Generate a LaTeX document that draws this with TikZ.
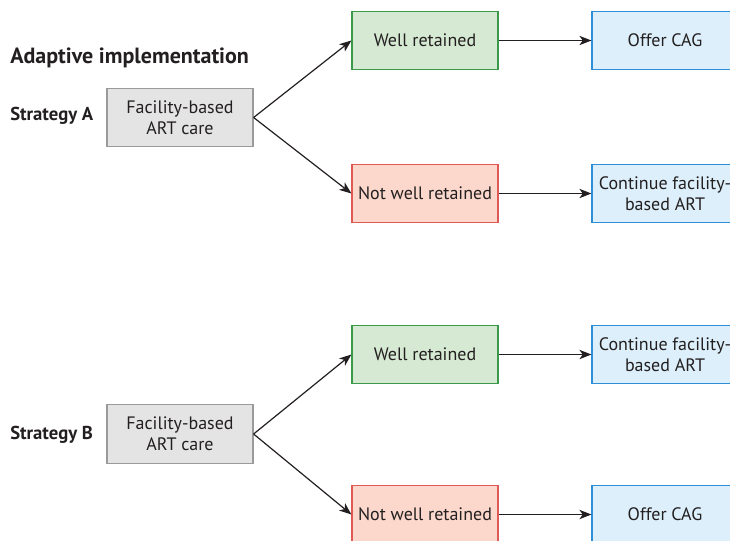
\documentclass[tikz,border=0pt]{standalone}
\usepackage{fontspec}
\setmainfont{PT Sans}
\usetikzlibrary{arrows.meta}

\definecolor{grayfill}{HTML}{E4E4E4}
\definecolor{grayline}{HTML}{9A9A9A}
\definecolor{greenfill}{HTML}{D6E9D2}
\definecolor{greenline}{HTML}{3A9A4A}
\definecolor{redfill}{HTML}{FBD8CB}
\definecolor{redline}{HTML}{E05A55}
\definecolor{bluefill}{HTML}{DCEFFA}
\definecolor{blueline}{HTML}{2F8FD6}
\definecolor{inktext}{HTML}{231F20}

\tikzset{
  box/.style={draw, line width=0.9pt, minimum width=109.5pt, minimum height=44pt,
    align=center, inner sep=1pt, text=inktext, font=\fontsize{13.5}{15.5}\selectfont},
  facility/.style={box, draw=grayline, fill=grayfill},
  retained/.style={box, draw=greenline, fill=greenfill},
  notretained/.style={box, draw=redline, fill=redfill},
  outcome/.style={box, draw=blueline, fill=bluefill},
  heading/.style={anchor=west, inner sep=0pt, text=inktext, font=\bfseries\fontsize{14}{16}\selectfont},
  arr/.style={-{Stealth[length=9pt,width=7pt,inset=2.5pt]}, line width=0.9pt, draw=inktext}
}

\begin{document}
\begin{tikzpicture}[x=0.75pt,y=0.75pt,yscale=-1,xscale=1]
    \useasboundingbox (0,0) rectangle (730,540);

    % Labels
    \node[heading, font=\bfseries\fontsize{16.5}{18}\selectfont] (title) at (10,58) {Adaptive implementation};
    \node[heading] (stratA) at (10,116) {Strategy A};
    \node[heading] (stratB) at (10,435) {Strategy B};

    % Strategy A
    \node[facility] (careA) at (180,117.5) {Facility-based\\ART care};
    \node[retained] (wellA) at (425,40.5) {Well retained};
    \node[notretained] (notA) at (425,193.5) {Not well retained};
    \node[outcome] (cagA) at (665,40.5) {Offer CAG};
    \node[outcome] (contA) at (665,193.5) {Continue facility-\\based ART};

    % Strategy B
    \node[facility] (careB) at (180,434) {Facility-based\\ART care};
    \node[retained] (wellB) at (425,354.5) {Well retained};
    \node[notretained] (notB) at (425,514.5) {Not well retained};
    \node[outcome] (contB) at (665,354.5) {Continue facility-\\based ART};
    \node[outcome] (cagB) at (665,514.5) {Offer CAG};

    % Arrows
    \draw[arr] (careA.east) -- (wellA.west);
    \draw[arr] (careA.east) -- (notA.west);
    \draw[arr] (wellA) -- (cagA);
    \draw[arr] (notA) -- (contA);
    \draw[arr] (careB.east) -- (wellB.west);
    \draw[arr] (careB.east) -- (notB.west);
    \draw[arr] (wellB) -- (contB);
    \draw[arr] (notB) -- (cagB);

\end{tikzpicture}
\end{document}
